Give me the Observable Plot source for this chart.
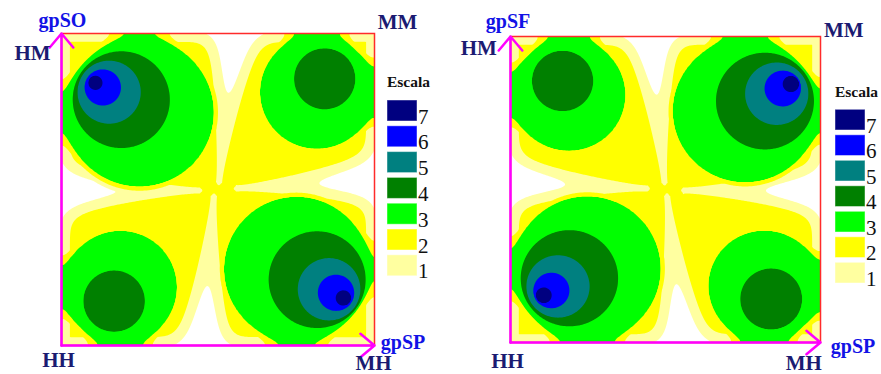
<!DOCTYPE html>
<html>
<head>
<meta charset="utf-8">
<script src="https://cdn.jsdelivr.net/npm/d3@7"></script>
<script src="https://cdn.jsdelivr.net/npm/@observablehq/plot@0.6"></script>
<style>
  html, body { margin: 0; padding: 0; background: #ffffff; }
  #wrap { display: flex; width: 881px; height: 374px; overflow: hidden; }
  #wrap svg { display: block; flex: none; }
</style>
</head>
<body>
<div id="wrap"></div>
<script>
// ---------- scale (legend) ----------
const levels = [1, 2, 3, 4, 5, 6, 7];
const levelColors = ["#FFFFA0", "#FFFF00", "#00FF00", "#008000", "#008080", "#0000FF", "#000080"];
const legendTitle = "Escala";

// ---------- domain of both panels (0..100 on each axis) ----------
const xDomain = [0, 100];
const yDomain = [0, 100];

// ---------- left panel: gpSP (x) vs gpSO (y) ----------
// each row: [level, circle centre x, circle centre y, radius] of the iso-level
const soHM = [[3, 24.9, 74.7, 23.8], [4, 19.1, 78.8, 15.5], [5, 15.2, 81.2, 10.1], [6, 13.2, 82.7, 5.8], [7, 10.8, 84.2, 2.3]];
const soMM = [[3, 81.6, 81.2, 18.2], [4, 84.1, 85.5, 9.8]];
const soHH = [[3, 18.8, 18.7, 18.1], [4, 16.8, 14.2, 9.85]];
const soMH = [[3, 75.1, 24.5, 23.2], [4, 81.7, 21.1, 15.5], [5, 85.5, 18.0, 10.0], [6, 87.7, 16.9, 5.8], [7, 90.1, 15.2, 2.5]];
// low valleys (pale "1" spindles): [tip x, tip y, edge x, edge y]
const soValleys = [[50.3, 52.0, 55.3, 100], [48.7, 48.1, 45.3, 0], [44.4, 49.7, 0, 49.7], [55.6, 50.3, 100, 53.1]];
const soLabels = ["gpSO", "HM", "MM", "HH", "MH", "gpSP"];

// ---------- right panel: gpSP (x) vs gpSF (y) ----------
const sfHM = [[3, 18.8, 80.9, 18.3], [4, 16.8, 85.5, 9.9]];
const sfMM = [[3, 75.7, 75.7, 23.4], [4, 82.1, 78.9, 15.8], [5, 85.9, 81.3, 10.2], [6, 87.8, 83.0, 5.85], [7, 90.5, 84.5, 2.7]];
const sfHH = [[3, 24.8, 24.1, 23.7], [4, 19.0, 21.0, 15.7], [5, 15.3, 18.3, 10.2], [6, 13.2, 17.0, 5.8], [7, 10.7, 15.4, 2.6]];
const sfMH = [[3, 81.9, 18.5, 18.1], [4, 84.1, 14.2, 10.0]];
const sfValleys = [[49.7, 52.0, 45.5, 100], [50.5, 48.1, 55.5, 0], [44.4, 50.3, 0, 52.5], [55.6, 49.7, 100, 49.6]];
const sfLabels = ["gpSF", "HM", "MM", "HH", "MH", "gpSP"];

// ---------- surface built from the read iso-circles ----------
const BASE = 2.45, KAPPA = 1.3, EDGE_A = 1.1, EDGE_L = 3, GROW = 2, GROW_L = 2;

function bumpValue(b, x, y, grow) {
  const d = b.map(([, cx, cy, r], i) => Math.hypot(x - cx, y - cy) - r - (i === 0 ? grow : 0));
  if (d[0] > 0) return b[0][0] - d[0] / KAPPA;
  let k = 0;
  while (k + 1 < b.length && d[k + 1] <= 0) k++;
  if (k === b.length - 1) return b[k][0] + 0.5 * Math.min(1, -d[k] / b[k][3]);
  const a = -d[k], c = d[k + 1];
  return b[k][0] + a / (a + c);
}

function valleyDip([ox, oy, ex, ey], x, y) {
  const vx = ex - ox, vy = ey - oy, L2 = vx * vx + vy * vy;
  let t = ((x - ox) * vx + (y - oy) * vy) / L2;
  if (t < 0) {
    const s = Math.hypot(x - ox, y - oy) / 1.8;
    return 0.5 * Math.exp(-(s * s));
  }
  t = Math.min(t, 1);
  const px = ox + t * vx, py = oy + t * vy;
  const D = 0.5 + 2.6 * t * t;
  const W = 3.0 + 3.5 * t * t;
  const s = Math.hypot(x - px, y - py) / W;
  return D * Math.exp(-(s * s));
}

function surface(bumps, valleys) {
  return (x, y) => {
    const edge = Math.min(x - xDomain[0], xDomain[1] - x, y - yDomain[0], yDomain[1] - y);
    const grow = GROW * Math.exp(-edge / GROW_L);
    let core = -Infinity;
    for (const b of bumps) core = Math.max(core, bumpValue(b, x, y, grow));
    let dip = 0;
    for (const v of valleys) dip += valleyDip(v, x, y);
    const base = BASE - dip - EDGE_A * Math.exp(-edge / EDGE_L);
    return Math.max(core, base);
  };
}

const navy = "#1B1B72", blue = "#1212E6";
const serif = "Liberation Serif, Times New Roman, serif";

function panel({bumps, valleys, labels, width, margins, labelPos, legend}) {
  const [mt, mr, mb, ml] = margins;
  const axes = [
    {x1: xDomain[0], y1: yDomain[0], x2: xDomain[0], y2: yDomain[1]},
    {x1: xDomain[0], y1: yDomain[0], x2: xDomain[1], y2: yDomain[0]}
  ];
  const textMarks = labels.map((t, i) => {
    const p = labelPos[i];
    return Plot.text([t], {
      text: d => d, frameAnchor: p.anchor, dx: p.dx, dy: p.dy,
      textAnchor: "middle", lineAnchor: "bottom",
      fontFamily: serif, fontWeight: "bold", fontSize: p.size,
      fill: t.startsWith("gp") ? blue : navy,
      letterSpacing: p.ls || 0
    });
  });
  const svg = Plot.plot({
    width, height: 374,
    marginTop: mt, marginRight: mr, marginBottom: mb, marginLeft: ml,
    x: {domain: xDomain, axis: null},
    y: {domain: yDomain, axis: null},
    color: {type: "ordinal", domain: levels, range: levelColors},
    style: {background: "#ffffff", overflow: "visible"},
    marks: [
      Plot.contour({fill: surface(bumps, valleys), x1: xDomain[0], y1: yDomain[0], x2: xDomain[1], y2: yDomain[1], thresholds: levels, pixelSize: 1}),
      Plot.frame({stroke: "#FF2B2B", strokeWidth: 1.5}),
      Plot.arrow(axes, {x1: "x1", y1: "y1", x2: "x2", y2: "y2", stroke: "#FF00FF", strokeWidth: 2.5, headLength: 11, headAngle: 80}),
      ...textMarks
    ]
  });
  // legend
  const g = d3.select(svg).append("g").attr("font-family", serif).attr("text-anchor", "start");
  g.append("text").attr("x", legend.x).attr("y", legend.titleY)
    .attr("font-weight", "bold").attr("font-size", 15.5).attr("fill", "#111").text(legendTitle);
  const order = levels.slice().reverse();
  order.forEach((lv, i) => {
    const top = legend.top + i * legend.step;
    g.append("rect").attr("x", legend.x).attr("y", top).attr("width", 30).attr("height", legend.h)
      .attr("fill", levelColors[levels.indexOf(lv)])
      .attr("stroke", "rgba(255,255,255,0.45)").attr("stroke-width", 1);
    g.append("text").attr("x", legend.x + 31).attr("y", top + legend.h + 2.5)
      .attr("font-size", 21).attr("fill", "#111").text(lv);
  });
  return svg;
}

const wrap = document.getElementById("wrap");
wrap.appendChild(panel({
  bumps: [soHM, soMM, soHH, soMH], valleys: soValleys, labels: soLabels,
  width: 440, margins: [33, 66, 29, 61],
  labelPos: [
    {anchor: "top-left", dx: 1, dy: -6.5, size: 20},
    {anchor: "top-left", dx: -29, dy: 26, size: 21},
    {anchor: "top-right", dx: 23, dy: -5, size: 21},
    {anchor: "bottom-left", dx: -3, dy: 21.5, size: 21, ls: 3},
    {anchor: "bottom-right", dx: -1, dy: 24.5, size: 21},
    {anchor: "bottom-right", dx: 28.5, dy: 3.5, size: 20}
  ],
  legend: {x: 387, titleY: 87.3, top: 100, step: 25.8, h: 21}
}));
wrap.appendChild(panel({
  bumps: [sfHM, sfMM, sfHH, sfMH], valleys: sfValleys, labels: sfLabels,
  width: 441, margins: [36, 61, 32, 70],
  labelPos: [
    {anchor: "top-left", dx: -2.5, dy: -9, size: 20},
    {anchor: "top-left", dx: -31.7, dy: 18.3, size: 21},
    {anchor: "top-right", dx: 23.3, dy: 0.3, size: 21},
    {anchor: "bottom-left", dx: -3, dy: 25.5, size: 21, ls: 3},
    {anchor: "bottom-right", dx: -16.7, dy: 27.5, size: 21},
    {anchor: "bottom-right", dx: 32.5, dy: 10, size: 20}
  ],
  legend: {x: 395, titleY: 97.3, top: 109.3, step: 25.5, h: 20.7}
}));
</script>
</body>
</html>
